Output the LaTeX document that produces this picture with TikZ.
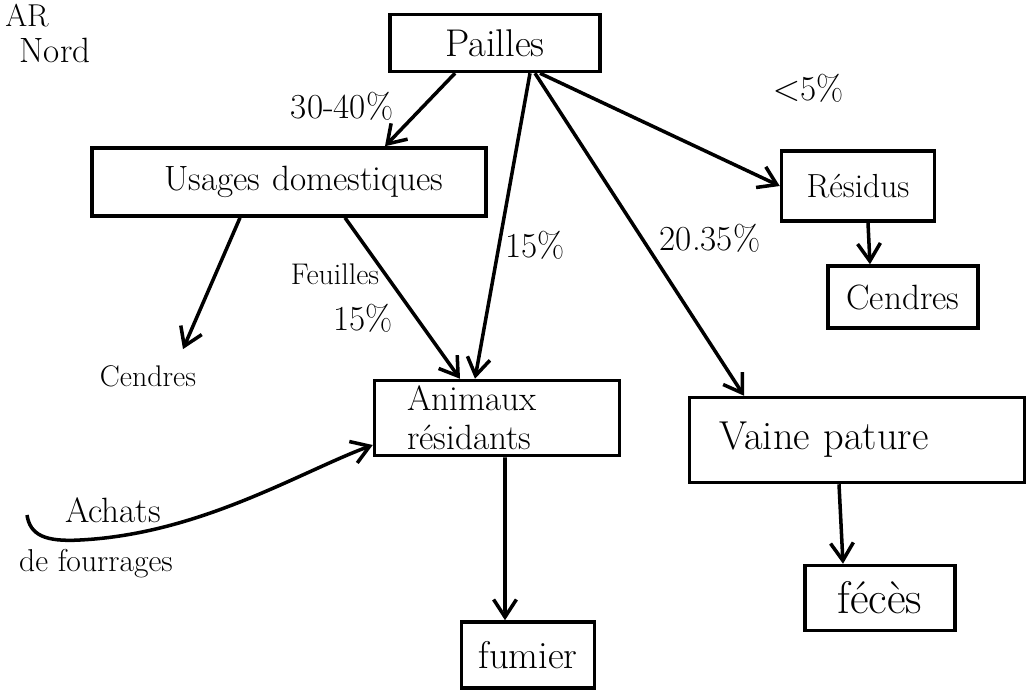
\documentclass[tikz,border=0pt]{standalone}
\usetikzlibrary{arrows.meta}
\begin{document}
\begin{tikzpicture}[x=0.02cm,y=-0.02cm,
  box/.style={draw, rectangle, line width=2pt, inner sep=0pt, align=center},
  arr/.style={-{Straight Barb[length=10pt,width=13pt,line width=2pt]}, line width=2pt},
  lbl/.style={font=\fontsize{20}{24}\selectfont}]
\useasboundingbox (0,0) rectangle (1029,690);

% corner texts
\node[font=\fontsize{18}{22}\selectfont] (ar) at (27,16) {AR};
\node[font=\fontsize{20}{24}\selectfont] (nord) at (55,50) {Nord};

% boxes
\node[box, minimum width=4.2cm, minimum height=1.14cm, font=\fontsize{22}{26}\selectfont] (pailles) at (495,43) {Pailles};
\node[box, minimum width=7.88cm, minimum height=1.36cm, text width=6.68cm, inner xsep=0.6cm, align=center, font=\fontsize{20}{24}\selectfont] (usages) at (289,182) {\hspace*{0.6cm}Usages domestiques};
\node[box, minimum width=3.06cm, minimum height=1.4cm, font=\fontsize{19}{23}\selectfont] (residus) at (858,186) {Résidus};
\node[box, minimum width=3.0cm, minimum height=1.24cm, font=\fontsize{20}{24}\selectfont] (cendresR) at (903,297) {Cendres};
\node[font=\fontsize{17}{20}\selectfont] (cendresL) at (148,376) {Cendres};
\node[box, minimum width=4.9cm, minimum height=1.5cm, text width=3.6cm, inner xsep=0.65cm, align=left, font=\fontsize{20}{22}\selectfont] (animaux) at (497,418) {Animaux\\résidants};
\node[box, minimum width=6.7cm, minimum height=1.7cm, text width=5.5cm, inner xsep=0.6cm, align=left, font=\fontsize{23}{27}\selectfont] (vaine) at (857,440) {Vaine pature};
\node[box, minimum width=3.0cm, minimum height=1.3cm, font=\fontsize{26}{30}\selectfont] (feces) at (880,598) {fécès};
\node[box, minimum width=2.66cm, minimum height=1.32cm, font=\fontsize{22}{26}\selectfont] (fumier) at (528,655) {fumier};

% achats text
\node[font=\fontsize{20}{24}\selectfont] (achats) at (113,510) {Achats};
\node[font=\fontsize{18}{22}\selectfont] (fourrages) at (96,564) {de fourrages};

% labels
\node[lbl] (l3040) at (342,106) {30-40\%};
\node[lbl] (l5) at (808,88) {$<$5\%};
\node[lbl] (l15a) at (535,245) {15\%};
\node[lbl] (l2035) at (710,238) {20.35\%};
\node[font=\fontsize{17}{20}\selectfont] (lfeuilles) at (335,274) {Feuilles};
\node[lbl] (l15b) at (363,318) {15\%};

% connectors
\draw[arr] ([xshift=-0.8cm]pailles.south) -- ([xshift=1.92cm]usages.north);
\draw[arr] ([xshift=0.7cm]pailles.south) -- ([xshift=-0.44cm]animaux.north);
\draw[arr] ([xshift=0.9cm]pailles.south) -- (residus.west);
\draw[arr] ([xshift=0.8cm]pailles.south) -- ([xshift=-2.26cm]vaine.north);
\draw[arr] ([xshift=-0.98cm]usages.south) -- ([xshift=0.7cm,yshift=0.2cm]cendresL.north);
\draw[arr] ([xshift=1.12cm]usages.south) -- ([xshift=-0.74cm]animaux.north);
\draw[arr] ([xshift=0.2cm]residus.south) -- ([xshift=-0.66cm]cendresR.north);
\draw[arr] ([xshift=0.16cm]animaux.south) -- ([xshift=-0.46cm]fumier.north);
\draw[arr] ([xshift=-0.36cm]vaine.south) -- ([xshift=-0.74cm]feces.north);
\coordinate (achatsStart) at (27,515);
\draw[arr] (achatsStart) .. controls (30,535) and (45,542) .. (80,540)
  .. controls (200,534) and (300,472) .. ([yshift=-0.54cm]animaux.west);
\end{tikzpicture}
\end{document}
